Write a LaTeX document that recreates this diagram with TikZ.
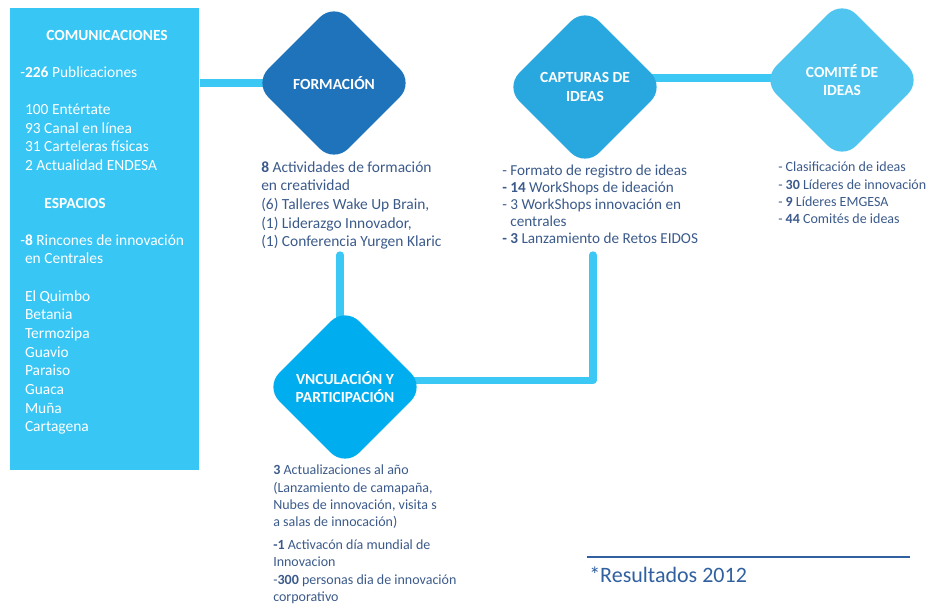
\documentclass[tikz,border=0pt]{standalone}
\usepackage{fontspec}
\setmainfont{Carlito}
\usepackage[HTML]{xcolor}
\usepackage{tikz}
\usetikzlibrary{positioning, shapes.geometric, backgrounds}

\definecolor{boxc}{HTML}{38C6F4}
\definecolor{linkc}{HTML}{3CC8F4}
\definecolor{formc}{HTML}{1F73BB}
\definecolor{captc}{HTML}{29A8E0}
\definecolor{comic}{HTML}{4FC5EF}
\definecolor{vincc}{HTML}{00ADEE}
\definecolor{txtc}{HTML}{3B5A8A}
\definecolor{resc}{HTML}{3060A0}

\newcommand{\bigtxt}{\fontsize{11.6}{14}\selectfont}
\newcommand{\midtxt}{\fontsize{11.4}{12.75}\selectfont}
\newcommand{\smalltxt}{\fontsize{10.5}{12.9}\selectfont}

\tikzset{
  idea/.style={diamond, minimum width=120pt, minimum height=120pt, inner sep=0pt,
    rounded corners=15pt, text=white, align=center, font=\bigtxt\bfseries},
  link/.style={draw=linkc, line width=5.5pt},
  info/.style={anchor=north west, inner sep=0pt, align=left, text=txtc}
}

\begin{document}
\begin{tikzpicture}[x=0.75pt, y=-0.75pt]
\useasboundingbox (0,0) rectangle (927,604);
% left panel
\node[fill=boxc, anchor=north west, inner sep=0pt, minimum width=141.75pt, minimum height=346.5pt] (comm) at (10,8) {};
\node[text=white, font=\bigtxt\bfseries] (commtitle) at (107,35) {COMUNICACIONES};
\node[info, text=white, font=\bigtxt] (commlist) at (20,66) {-\textbf{226} Publicaciones\\[14pt]
\phantom{-}100 Ent\'ertate\\ \phantom{-}93 Canal en l\'inea\\ \phantom{-}31 Carteleras f\'isicas\\ \phantom{-}2 Actualidad ENDESA};
\node[text=white, font=\bigtxt\bfseries] (esptitle) at (75,203) {ESPACIOS};
\node[info, text=white, font=\bigtxt] (esplist) at (20,234) {-\textbf{8} Rincones de innovaci\'on\\ \phantom{-}en Centrales\\[14pt]
\phantom{-}El Quimbo\\ \phantom{-}Betania\\ \phantom{-}Termozipa\\ \phantom{-}Guavio\\ \phantom{-}Paraiso\\ \phantom{-}Guaca\\ \phantom{-}Mu\~na\\ \phantom{-}Cartagena};
% diamonds
\node[idea, fill=formc] (form) at (334,83) {FORMACI\'ON};
\node[idea, fill=captc] (capt) at (585,87) {CAPTURAS DE\\IDEAS};
\node[idea, fill=comic] (comi) at (842,80) {COMIT\'E DE\\IDEAS};
\node[idea, fill=vincc] (vinc) at (345,387) {VNCULACI\'ON Y\\PARTICIPACI\'ON};
% texts under the diamonds
\node[info, font=\bigtxt] (formtxt) at (261,161) {\textbf{8} Actividades de formaci\'on\\en creatividad\\(6) Talleres Wake Up Brain,\\(1) Liderazgo Innovador,\\(1) Conferencia Yurgen Klaric};
\node[info, font=\midtxt] (capttxt) at (502,165) {- Formato de registro de ideas\\\textbf{- 14} WorkShops de ideaci\'on\\- 3 WorkShops innovaci\'on en\\\phantom{- }centrales\\\textbf{- 3} Lanzamiento de Retos EIDOS};
\node[info, font=\smalltxt] (comitxt) at (778,162) {- Clasificaci\'on de ideas\\- \textbf{30} L\'ideres de innovaci\'on\\- \textbf{9} L\'ideres EMGESA\\- \textbf{44} Comit\'es de ideas};
\node[info, font=\smalltxt] (vinctxt) at (273,465) {\textbf{3} Actualizaciones al a\~no\\(Lanzamiento de camapa\~na,\\Nubes de innovaci\'on, visita s\\a salas de innocaci\'on)\\[4.5pt]
\textbf{-1} Activac\'on d\'ia mundial de\\Innovacion\\-\textbf{300} personas dia de innovaci\'on\\corporativo};
% free ends of the connectors
\coordinate (formend) at (340,255);
\coordinate (captend) at (593,255);
% connectors
\begin{scope}[on background layer]
\draw[link] (comm.east |- form.center) -- (form.center);
\draw[link] ([yshift=1.5pt]capt.center |- comi.center) -- ([yshift=1.5pt]comi.center);
\draw[link, line cap=round] (formend) -- (formend |- vinc.center);
\draw[link, line cap=round, line join=round] ([yshift=5pt]vinc.center) -| (captend);
\end{scope}
% note
\draw[resc, line width=1.5pt] (587,557) -- (910,557);
\node[anchor=north west, inner sep=0pt, text=resc, font=\fontsize{16.5}{19}\selectfont] (res) at (589,567) {*Resultados 2012};
\end{tikzpicture}
\end{document}
